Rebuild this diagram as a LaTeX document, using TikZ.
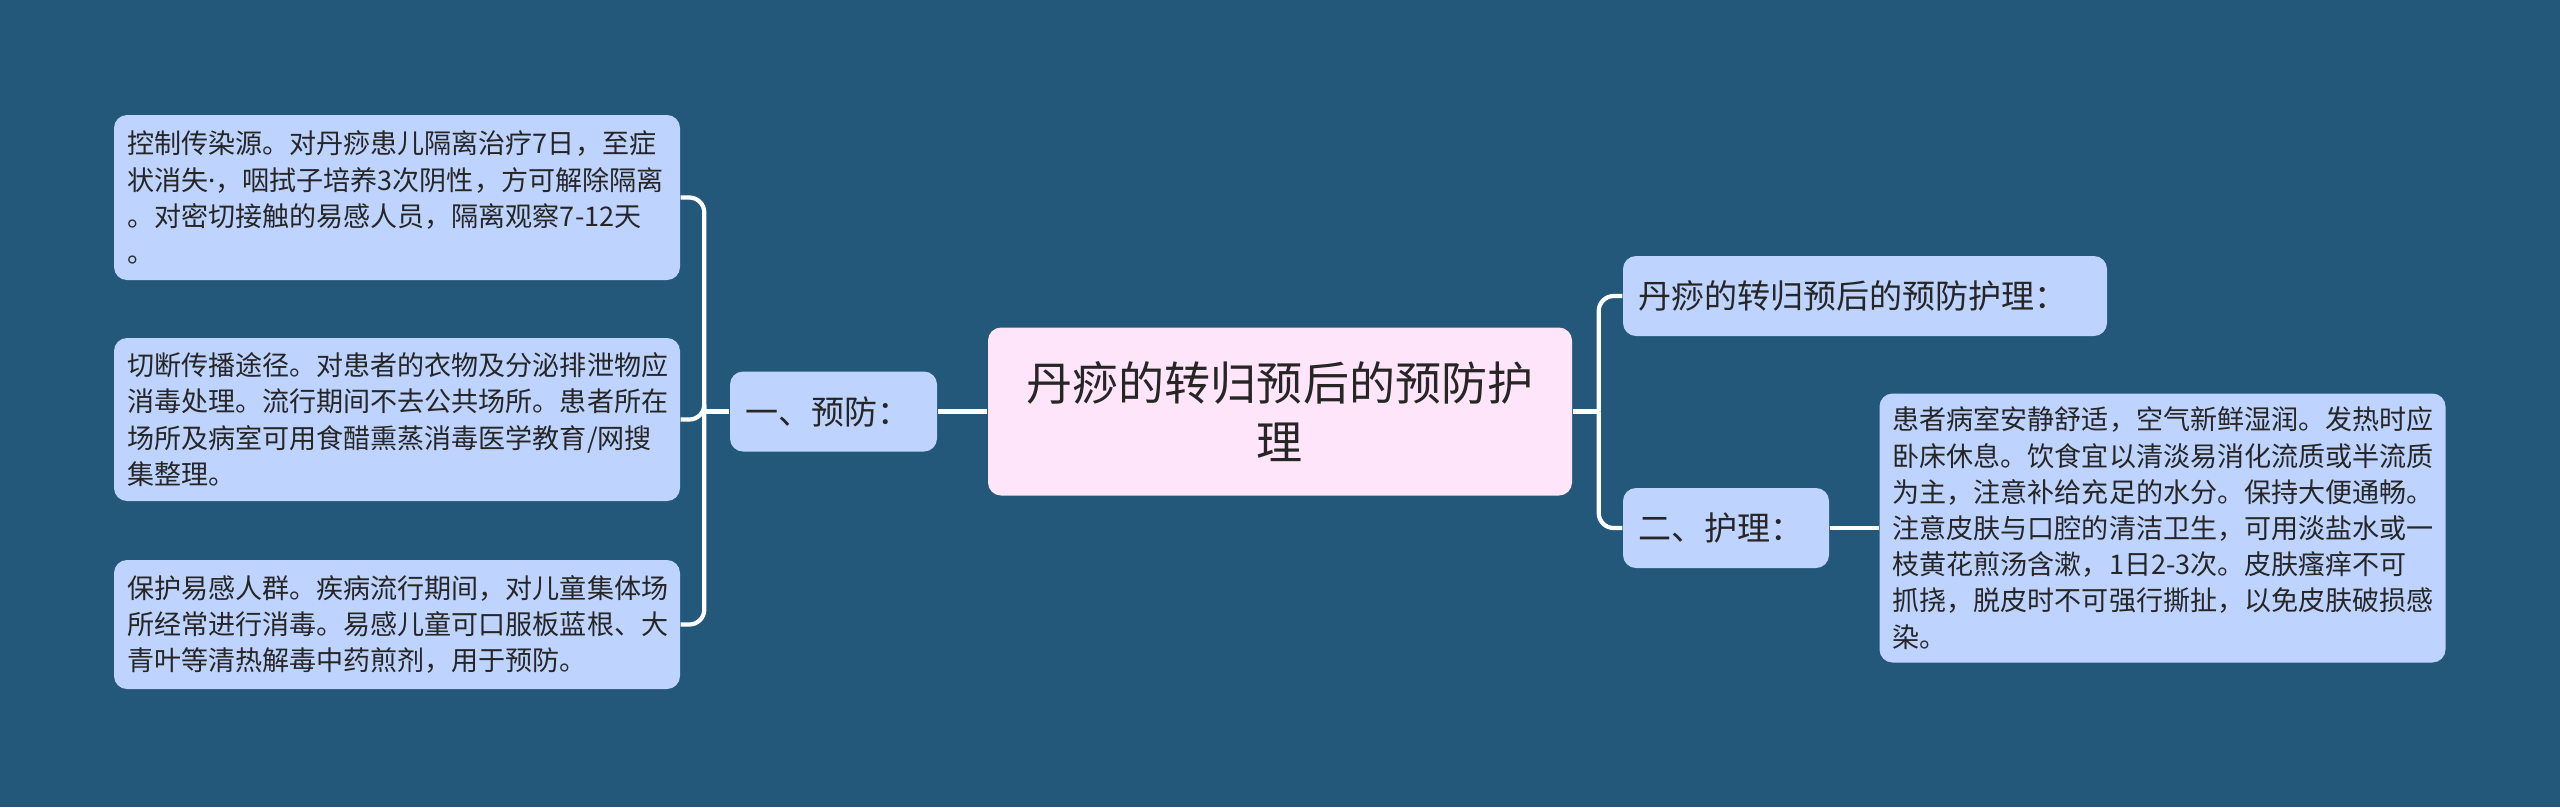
\documentclass[tikz,border=0pt]{standalone}
\usepackage{fontspec}
\setmainfont{Noto Sans CJK SC}
\newfontfamily\latinfont{Noto Sans}
\usetikzlibrary{calc}

\definecolor{bgblue}{RGB}{35,88,122}
\definecolor{leafblue}{RGB}{190,211,253}
\definecolor{rootpink}{RGB}{255,229,250}
\definecolor{inkgray}{RGB}{38,38,38}

\tikzset{
	box/.style={fill=leafblue, text=inkgray, rounded corners=0.13cm, inner xsep=0.13cm, inner ysep=0pt, align=left},
	leaf/.style={box, text width=5.40cm, font=\fontsize{7.7}{10.3}\selectfont},
	branch/.style={box, inner xsep=0.15cm, minimum height=0.8cm, font=\fontsize{9.4}{12}\selectfont},
	root/.style={box, fill=rootpink, align=center, text width=5.58cm, minimum height=1.68cm, font=\fontsize{13.1}{17}\selectfont},
	link/.style={draw=white, line width=1.2pt, rounded corners=0.15cm}
}

\begin{document}
\begin{tikzpicture}
	
	\fill[bgblue] (0,0) rectangle (25.6,-8.07);
	\useasboundingbox (0,0) rectangle (25.6,-8.07);
	
	\node[root] (root) at (12.80,-4.115) {丹痧的转归预后的预防护\\理};
	
	\node[branch, text width=1.77cm] (yufang) at (8.335,-4.115) {一、预防：};
	\node[leaf, minimum height=1.65cm] (kongzhi) at (3.97,-1.975) {控制传染源。对丹痧患儿隔离治疗7日，至症\\状消失{\latinfont ·}，咽拭子培养3次阴性，方可解除隔离\\。对密切接触的易感人员，隔离观察7-12天\\。};
	\node[leaf, minimum height=1.63cm] (qieduan) at (3.97,-4.195) {切断传播途径。对患者的衣物及分泌排泄物应\\消毒处理。流行期间不去公共场所。患者所在\\场所及病室可用食醋熏蒸消毒医学教育/网搜\\集整理。};
	\node[leaf, minimum height=1.29cm] (baohu) at (3.97,-6.245) {保护易感人群。疾病流行期间，对儿童集体场\\所经常进行消毒。易感儿童可口服板蓝根、大\\青叶等清热解毒中药煎剂，用于预防。};
	
	\node[branch, text width=4.54cm] (yuhou) at (18.65,-2.96) {丹痧的转归预后的预防护理：};
	\node[branch, text width=1.76cm] (huli) at (17.26,-5.28) {二、护理：};
	\node[leaf, minimum height=2.69cm] (huliText) at (21.625,-5.28) {患者病室安静舒适，空气新鲜湿润。发热时应\\卧床休息。饮食宜以清淡易消化流质或半流质\\为主，注意补给充足的水分。保持大便通畅。\\注意皮肤与口腔的清洁卫生，可用淡盐水或一\\枝黄花煎汤含漱，1日2-3次。皮肤瘙痒不可\\抓挠，脱皮时不可强行撕扯，以免皮肤破损感\\染。};
	
	\coordinate (lfork) at ([xshift=-0.25cm]yufang.west);
	\coordinate (rfork) at ([xshift=0.26cm]root.east);
	
	\draw[link] (root.west) -- (yufang.east);
	\draw[link] (yufang.west) -- (lfork);
	\draw[link] (lfork) |- (kongzhi.east);
	\draw[link] (lfork) |- (qieduan.east);
	\draw[link] (lfork) |- (baohu.east);
	
	\draw[link] (root.east) -- (rfork);
	\draw[link] (rfork) |- (yuhou.west);
	\draw[link] (rfork) |- (huli.west);
	\draw[link] (huli.east) -- (huliText.west);
\end{tikzpicture}
\end{document}
